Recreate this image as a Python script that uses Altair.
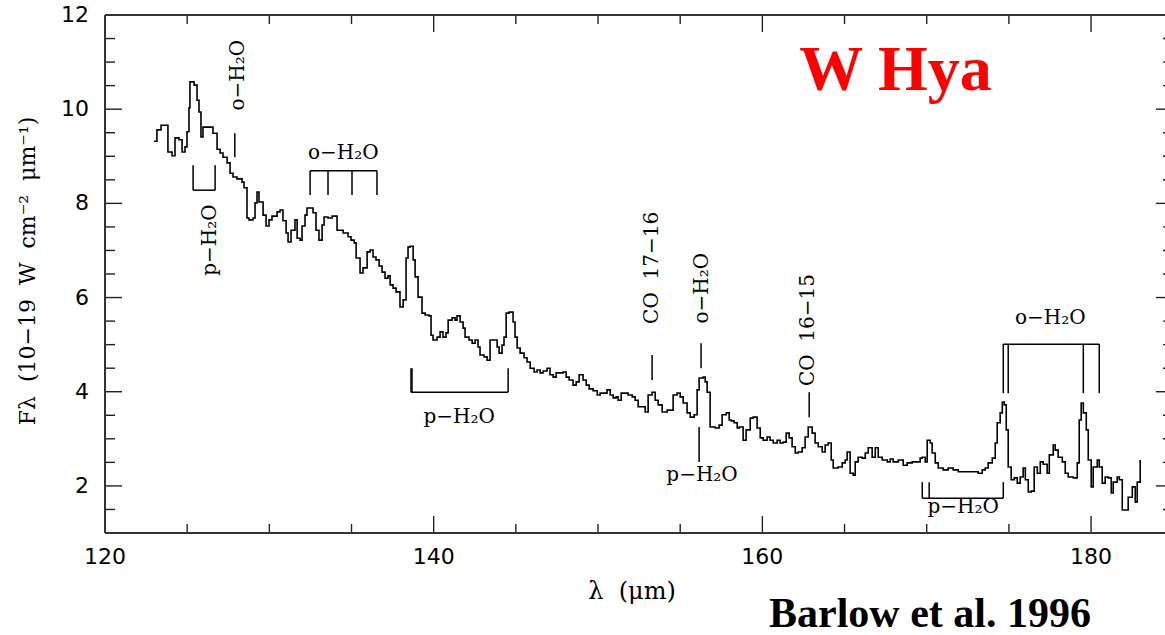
import altair as alt
import pandas as pd

# ---------------- data ----------------
wavelength = [
    122.98, 123.16, 123.41, 123.71, 123.83, 124.08, 124.26, 124.50, 124.69, 124.87,
    124.99, 125.11, 125.17, 125.42, 125.60, 125.72, 125.84, 125.96, 126.27, 126.57,
    126.82, 127.00, 127.18, 127.43, 127.61, 127.79, 128.03, 128.34, 128.46, 128.64,
    128.76, 129.01, 129.13, 129.25, 129.37, 129.62, 129.80, 129.98, 130.16, 130.47,
    130.65, 130.83, 131.02, 131.14, 131.32, 131.56, 131.69, 131.87, 131.99, 132.17,
    132.29, 132.48, 132.66, 132.84, 133.02, 133.21, 133.33, 133.57, 133.82, 134.00,
    134.12, 134.49, 134.79, 134.97, 135.16, 135.28, 135.52, 135.70, 135.95, 136.13,
    136.31, 136.49, 136.68, 136.86, 137.04, 137.22, 137.35, 137.53, 137.71, 137.95,
    138.14, 138.32, 138.44, 138.56, 138.75, 138.87, 139.05, 139.29, 139.48, 139.72,
    139.84, 139.96, 140.21, 140.39, 140.57, 140.75, 140.88, 141.12, 141.30, 141.42,
    141.61, 141.79, 141.91, 142.15, 142.34, 142.52, 142.70, 142.82, 143.07, 143.25,
    143.43, 143.68, 143.86, 143.98, 144.16, 144.28, 144.41, 144.59, 144.83, 144.95,
    145.08, 145.26, 145.50, 145.68, 145.87, 146.11, 146.29, 146.48, 146.66, 146.90,
    147.08, 147.27, 147.45, 147.69, 147.88, 148.06, 148.24, 148.48, 148.67, 148.85,
    149.09, 149.28, 149.46, 149.70, 149.95, 150.13, 150.31, 150.55, 150.74, 150.92,
    151.10, 151.22, 151.41, 151.65, 151.83, 152.08, 152.26, 152.44, 152.68, 152.87,
    153.05, 153.29, 153.48, 153.66, 153.90, 154.21, 154.39, 154.57, 154.81, 155.00,
    155.18, 155.42, 155.61, 155.85, 156.03, 156.15, 156.40, 156.52, 156.64, 156.82,
    157.13, 157.37, 157.55, 157.80, 157.98, 158.10, 158.28, 158.47, 158.59, 158.83,
    159.01, 159.26, 159.44, 159.68, 159.87, 160.05, 160.29, 160.47, 160.66, 160.90,
    161.08, 161.27, 161.45, 161.63, 161.81, 162.00, 162.18, 162.42, 162.60, 162.79,
    163.03, 163.21, 163.40, 163.64, 163.82, 164.00, 164.19, 164.31, 164.61, 164.86,
    165.04, 165.16, 165.34, 165.53, 165.65, 165.83, 166.07, 166.26, 166.44, 166.68,
    166.87, 167.05, 167.29, 167.60, 167.78, 167.96, 168.27, 168.57, 168.81, 169.12,
    169.36, 169.60, 169.73, 169.91, 170.03, 170.21, 170.33, 170.52, 170.70, 171.00,
    171.31, 171.61, 171.92, 172.22, 172.53, 172.83, 173.13, 173.38, 173.56, 173.74,
    173.99, 174.17, 174.29, 174.47, 174.60, 174.72, 174.84, 174.96, 175.14, 175.33,
    175.51, 175.69, 175.87, 176.00, 176.18, 176.36, 176.54, 176.73, 176.91, 177.09,
    177.33, 177.46, 177.70, 177.82, 178.00, 178.25, 178.43, 178.61, 178.92, 179.16,
    179.28, 179.40, 179.53, 179.71, 179.83, 180.01, 180.13, 180.38, 180.50, 180.68,
    180.86, 181.05, 181.23, 181.35, 181.59, 181.72, 181.90, 182.08, 182.26, 182.51,
    182.69, 182.81, 182.99,
]
flux = [
    9.32, 9.56, 9.66, 9.66, 9.09, 9.01, 9.39, 9.35, 9.09, 9.20,
    9.52, 10.03, 10.58, 10.51, 10.19, 9.94, 9.41, 9.62, 9.62, 9.49,
    9.15, 9.07, 8.98, 8.86, 8.64, 8.56, 8.52, 8.45, 8.33, 7.69,
    7.65, 7.69, 8.01, 8.24, 8.03, 7.75, 7.52, 7.65, 7.73, 7.82,
    7.86, 7.63, 7.37, 7.18, 7.43, 7.65, 7.26, 7.22, 7.52, 7.75,
    7.90, 7.90, 7.80, 7.43, 7.22, 7.54, 7.71, 7.69, 7.73, 7.73,
    7.43, 7.37, 7.29, 7.22, 7.16, 6.84, 6.52, 6.63, 6.97, 7.01,
    6.86, 6.80, 6.67, 6.54, 6.41, 6.46, 6.27, 6.20, 6.12, 5.80,
    5.95, 6.84, 7.07, 7.09, 6.80, 6.44, 6.01, 5.67, 5.63, 5.61,
    5.20, 5.10, 5.16, 5.27, 5.16, 5.25, 5.52, 5.57, 5.52, 5.61,
    5.48, 5.35, 5.16, 5.10, 5.03, 5.10, 4.95, 4.78, 4.74, 4.67,
    5.10, 5.10, 4.95, 4.82, 4.99, 5.16, 5.67, 5.69, 5.48, 5.16,
    4.93, 4.82, 4.72, 4.63, 4.50, 4.42, 4.46, 4.40, 4.44, 4.50,
    4.36, 4.31, 4.40, 4.40, 4.42, 4.31, 4.25, 4.14, 4.21, 4.36,
    4.25, 4.14, 4.06, 4.02, 3.93, 3.97, 3.97, 4.04, 3.93, 3.87,
    3.89, 3.82, 3.97, 3.97, 3.93, 3.89, 3.82, 3.68, 3.68, 3.57,
    3.93, 3.99, 3.82, 3.72, 3.57, 3.61, 3.61, 3.93, 3.97, 3.89,
    3.76, 3.55, 3.46, 3.51, 4.04, 4.29, 4.31, 4.21, 3.99, 3.25,
    3.23, 3.29, 3.51, 3.55, 3.40, 3.38, 3.34, 3.23, 3.25, 2.97,
    3.19, 3.44, 3.46, 3.23, 3.02, 2.97, 3.04, 2.97, 2.91, 2.97,
    2.91, 2.93, 3.12, 3.02, 2.83, 2.70, 2.72, 2.81, 3.04, 3.25,
    3.12, 2.91, 2.83, 2.72, 2.87, 2.91, 2.55, 2.38, 2.40, 2.49,
    2.55, 2.72, 2.27, 2.23, 2.51, 2.61, 2.59, 2.70, 2.81, 2.61,
    2.81, 2.61, 2.55, 2.51, 2.57, 2.51, 2.55, 2.44, 2.49, 2.51,
    2.51, 2.59, 2.61, 2.51, 2.97, 2.91, 2.70, 2.49, 2.38, 2.34,
    2.38, 2.34, 2.30, 2.30, 2.30, 2.30, 2.27, 2.34, 2.38, 2.49,
    2.59, 2.91, 3.34, 3.55, 3.78, 3.72, 3.19, 2.40, 2.13, 2.17,
    2.06, 2.19, 2.38, 2.13, 1.87, 1.89, 2.40, 2.27, 2.51, 2.46,
    2.27, 2.66, 2.87, 2.76, 2.61, 2.51, 2.27, 2.19, 2.17, 2.49,
    3.40, 3.76, 3.55, 3.19, 2.55, 1.98, 2.40, 2.55, 2.40, 2.06,
    2.19, 2.17, 1.85, 2.08, 2.19, 2.13, 1.49, 1.49, 1.76, 1.98,
    1.66, 2.08, 2.55,
]

# line-identification markers (vertical strokes)
mark_x = [127.90, 125.36, 126.70, 132.48, 133.57, 135.03, 136.55, 138.62, 138.68,
          144.53, 153.29, 156.27, 156.15, 162.85, 169.73, 170.15, 174.66, 174.66,
          174.96, 179.53, 180.50]
mark_y1 = [8.98, 8.28, 8.28, 8.18, 8.18, 8.18, 8.18, 3.99, 3.99,
           3.99, 4.25, 4.50, 2.51, 3.46, 1.74, 1.74, 1.74, 3.97,
           3.97, 3.97, 3.97]
mark_y2 = [9.49, 8.81, 8.81, 8.69, 8.69, 8.69, 8.69, 4.50, 4.50,
           4.50, 4.78, 5.03, 3.25, 3.99, 2.08, 2.08, 2.08, 5.01,
           5.01, 5.01, 5.01]
# bracket cross bars
bar_x1 = [125.36, 132.48, 138.62, 169.73, 174.66]
bar_x2 = [126.70, 136.55, 144.53, 174.66, 180.50]
bar_y = [8.28, 8.69, 3.99, 1.74, 5.01]

NB = "\u00a0"  # non-breaking space keeps the wide spacing of the original lettering

# labels
hlab_text = ["o\u2212H\u2082O", "p\u2212H\u2082O", "p\u2212H\u2082O", "p\u2212H\u2082O", "o\u2212H\u2082O"]
hlab_x = [134.50, 141.55, 156.33, 172.22, 177.52]
hlab_y = [9.07, 3.46, 2.23, 1.55, 5.57]

vlab_text = ["o\u2212H\u2082O", "p\u2212H\u2082O", "CO" + NB * 2 + "17\u221216",
             "o\u2212H\u2082O", "CO" + NB * 2 + "16\u221215"]
vlab_x = [128.10, 126.40, 153.29, 156.30, 162.80]
vlab_y = [10.72, 7.22, 6.63, 6.20, 5.31]

x_major = [120, 140, 160, 180]
x_minor = [125, 130, 135, 145, 150, 155, 165, 170, 175]
y_major = [2, 4, 6, 8, 10, 12]
y_minor = [1.5, 2.5, 3, 3.5, 4.5, 5, 5.5, 6.5, 7, 7.5, 8.5, 9, 9.5, 10.5, 11, 11.5]

x_title = "\u03bb" + NB * 2 + "(\u03bcm)"
y_title = ("F\u03bb" + NB * 2 + "(10\u221219" + NB * 2 + "W" + NB * 2 +
           "cm\u207b\u00b2" + NB * 2 + "\u03bcm\u207b\u00b9)")
star_name = "W Hya"
citation = "Barlow et al. 1996"

# ---------------- layout ----------------
W, H = 1060, 518
XDOM = [120, 184.5]
YDOM = [1, 12]
TICK_FONT = "DejaVu Sans"
ANN_FONT = "DejaVu Serif"

xs = alt.Scale(domain=XDOM, nice=False, zero=False)
ys = alt.Scale(domain=YDOM, nice=False, zero=False)


def xq(field):
    return alt.X(field, type="quantitative", scale=xs, axis=None)


def yq(field):
    return alt.Y(field, type="quantitative", scale=ys, axis=None)


spec = pd.DataFrame({"wl": wavelength, "flux": flux})
line = alt.Chart(spec).mark_line(
    interpolate="step-after", color="black", strokeWidth=1.6
).encode(x=xq("wl"), y=yq("flux"))

df_xmaj = pd.DataFrame({"t": x_major})
df_xmin = pd.DataFrame({"t": x_minor})
df_ymaj = pd.DataFrame({"t": y_major})
df_ymin = pd.DataFrame({"t": y_minor})

tick_color = "#222222"
tw = 1.4
MAJ, MIN = 17, 9

ticks = [
    alt.Chart(df_xmaj).mark_rule(color=tick_color, strokeWidth=tw).encode(
        x=xq("t"), y=alt.value(H), y2=alt.value(H - MAJ)),
    alt.Chart(df_xmin).mark_rule(color=tick_color, strokeWidth=tw).encode(
        x=xq("t"), y=alt.value(H), y2=alt.value(H - MIN)),
    alt.Chart(df_xmaj).mark_rule(color=tick_color, strokeWidth=tw).encode(
        x=xq("t"), y=alt.value(0), y2=alt.value(MAJ)),
    alt.Chart(df_xmin).mark_rule(color=tick_color, strokeWidth=tw).encode(
        x=xq("t"), y=alt.value(0), y2=alt.value(MIN)),
    alt.Chart(df_ymaj).mark_rule(color=tick_color, strokeWidth=tw).encode(
        y=yq("t"), x=alt.value(0), x2=alt.value(MAJ)),
    alt.Chart(df_ymin).mark_rule(color=tick_color, strokeWidth=tw).encode(
        y=yq("t"), x=alt.value(0), x2=alt.value(10)),
    alt.Chart(df_ymaj).mark_rule(color=tick_color, strokeWidth=tw).encode(
        y=yq("t"), x=alt.value(W + 8), x2=alt.value(W + 8 - MAJ)),
    alt.Chart(df_ymin).mark_rule(color=tick_color, strokeWidth=tw).encode(
        y=yq("t"), x=alt.value(W + 8), x2=alt.value(W + 8 - 10)),
]

# tick labels
xlabels = alt.Chart(df_xmaj).mark_text(
    font=TICK_FONT, fontSize=22, color="black", align="center", baseline="top"
).encode(x=xq("t"), y=alt.value(H + 14), text=alt.Text("t:Q", format="d"))
ylabels = alt.Chart(df_ymaj).mark_text(
    font=TICK_FONT, fontSize=22, color="black", align="right", baseline="middle"
).encode(y=yq("t"), x=alt.value(-16), text=alt.Text("t:Q", format="d"))

frame_color = "#333333"
frame = [
    alt.Chart(df_xmaj).mark_rule(color=frame_color, strokeWidth=2).encode(
        x=alt.value(0), y=alt.value(0), y2=alt.value(H)),
    alt.Chart(df_xmaj).mark_rule(color=frame_color, strokeWidth=2).encode(
        x=alt.value(0), x2=alt.value(W + 10), y=alt.value(0)),
    alt.Chart(df_xmaj).mark_rule(color=frame_color, strokeWidth=2).encode(
        x=alt.value(0), x2=alt.value(W + 10), y=alt.value(H)),
]

df_marks = pd.DataFrame({"x": mark_x, "y1": mark_y1, "y2": mark_y2})
df_bars = pd.DataFrame({"x1": bar_x1, "x2": bar_x2, "y": bar_y})
markers = alt.Chart(df_marks).mark_rule(color="black", strokeWidth=1.5).encode(
    x=xq("x"), y=yq("y1"), y2="y2")
bars = alt.Chart(df_bars).mark_rule(color="black", strokeWidth=1.5).encode(
    x=xq("x1"), x2="x2", y=yq("y"))

df_h = pd.DataFrame({"text": hlab_text, "x": hlab_x, "y": hlab_y})
df_v = pd.DataFrame({"text": vlab_text, "x": vlab_x, "y": vlab_y})
hlabels = alt.Chart(df_h).mark_text(
    font=ANN_FONT, fontSize=20, color="black", align="center", baseline="middle"
).encode(x=xq("x"), y=yq("y"), text="text:N")
vlabels = alt.Chart(df_v).mark_text(
    font=ANN_FONT, fontSize=20, color="black", align="center", baseline="middle", angle=270
).encode(x=xq("x"), y=yq("y"), text="text:N")

titles_df = pd.DataFrame({"xt": [x_title], "yt": [y_title]})
xtitle = alt.Chart(titles_df).mark_text(
    font=ANN_FONT, fontSize=24, color="black", align="center", baseline="middle"
).encode(x=alt.value(527), y=alt.value(H + 59), text="xt:N")
ytitle = alt.Chart(titles_df).mark_text(
    font=ANN_FONT, fontSize=22, color="black", align="center", baseline="middle", angle=270
).encode(x=alt.value(-77), y=alt.value(256), text="yt:N")

title_df = pd.DataFrame({"text": [star_name], "x": [168.1], "y": [10.41]})
star = alt.Chart(title_df).mark_text(
    font="Liberation Serif", fontSize=64, fontWeight="bold", color="#ff0000",
    align="center", baseline="alphabetic"
).encode(x=xq("x"), y=yq("y"), text="text:N")

cite_df = pd.DataFrame({"text": [citation]})
cite = alt.Chart(cite_df).mark_text(
    font="Liberation Serif", fontSize=42, fontWeight="bold", color="black",
    align="center", baseline="alphabetic"
).encode(x=alt.value(825), y=alt.value(H + 94), text="text:N")

chart = alt.layer(
    line, *ticks, *frame, markers, bars, hlabels, vlabels,
    xlabels, ylabels, xtitle, ytitle, star, cite
).properties(
    width=W, height=H,
    autosize=alt.AutoSizeParams(type="none"),
    padding={"left": 105, "top": 15, "right": 0, "bottom": 102},
    background="white",
).configure_view(strokeWidth=0)

chart.save("out.html", embed_options={"renderer": "svg", "actions": False})
